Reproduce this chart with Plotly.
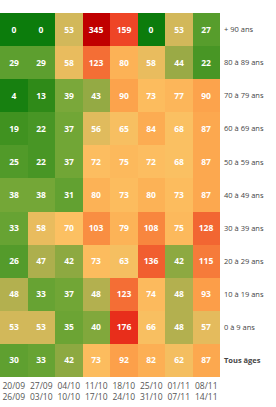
import plotly.graph_objects as go

weeks = ["20/09<br>26/09", "27/09<br>03/10", "04/10<br>10/10", "11/10<br>17/10",
         "18/10<br>24/10", "25/10<br>31/10", "01/11<br>07/11", "08/11<br>14/11"]
ages = ["+ 90 ans", "80 à 89 ans", "70 à 79 ans", "60 à 69 ans", "50 à 59 ans",
        "40 à 49 ans", "30 à 39 ans", "20 à 29 ans", "10 à 19 ans", "0 à 9 ans",
        "<b>Tous âges</b>"]

r90 = [0, 0, 53, 345, 159, 0, 53, 27]
r80 = [29, 29, 58, 123, 80, 58, 44, 22]
r70 = [4, 13, 39, 43, 90, 73, 77, 90]
r60 = [19, 22, 37, 56, 65, 84, 68, 87]
r50 = [25, 22, 37, 72, 75, 72, 68, 87]
r40 = [38, 38, 31, 80, 73, 80, 73, 87]
r30 = [33, 58, 70, 103, 79, 108, 75, 128]
r20 = [26, 47, 42, 73, 63, 136, 42, 115]
r10 = [48, 33, 37, 48, 123, 74, 48, 93]
r0 = [53, 53, 35, 40, 176, 66, 48, 57]
rall = [30, 33, 42, 73, 92, 82, 62, 87]

z = [r90, r80, r70, r60, r50, r40, r30, r20, r10, r0, rall]
text = [[str(v) for v in row] for row in z]

zmax = 345.0
stops = [(0, "#0c7c0c"), (15, "#348c1a"), (28, "#5a9e2e"), (38, "#74a737"),
         (44, "#9aaa46"), (53, "#d2b85a"), (60, "#f2be60"), (70, "#fcc062"),
         (80, "#fcb256"), (92, "#fca04a"), (108, "#f8863e"), (128, "#f26632"),
         (160, "#ee4426"), (180, "#e62818"), (345, "#c00000")]
colorscale = [[v / zmax, c] for v, c in stops]

fig = go.Figure(go.Heatmap(
    z=z, x=list(range(len(weeks))), y=list(range(len(ages))),
    text=text, texttemplate="<b>%{text}</b>",
    textfont=dict(color="white", size=8.5, family="Open Sans"),
    colorscale=colorscale, zmin=0, zmax=zmax, showscale=False,
    xgap=0, ygap=0, hoverinfo="skip"))

fig.update_layout(
    width=276, height=407,
    margin=dict(l=0, r=56, t=13, b=30),
    paper_bgcolor="white", plot_bgcolor="white",
    font=dict(family="Open Sans", color="#555555"),
    xaxis=dict(tickmode="array", tickvals=list(range(len(weeks))), ticktext=weeks,
               tickfont=dict(size=8.5, color="#555555"), showgrid=False, zeroline=False,
               ticks="", ticklabelstandoff=2),
    yaxis=dict(tickmode="array", tickvals=list(range(len(ages))), ticktext=ages,
               autorange="reversed", side="right",
               tickfont=dict(size=7.5, color="#444444"), showgrid=False, zeroline=False,
               ticks="", ticklabelstandoff=3),
)

fig.write_html("out.html")
